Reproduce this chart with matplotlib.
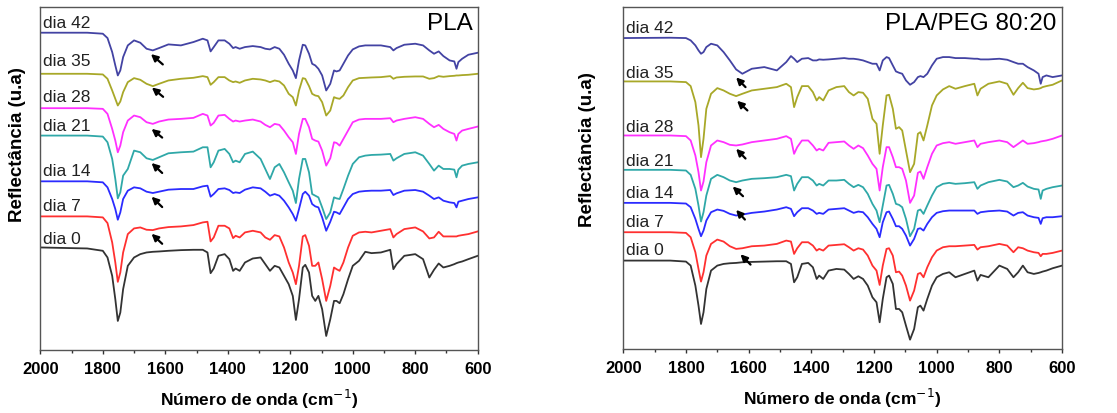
import matplotlib
matplotlib.use('Agg')
import matplotlib.pyplot as plt
from matplotlib.ticker import MultipleLocator

plt.rcParams['font.family'] = ['Liberation Sans', 'DejaVu Sans']

# 1. Wavenumber grid (cm-1), shared by every spectrum
wavenumber = [2000, 1850, 1800, 1785, 1770, 1760, 1752, 1744, 1735, 1720,
              1700, 1680, 1660, 1640, 1620, 1590, 1550, 1510, 1480, 1465,
              1455, 1445, 1430, 1410, 1395, 1383, 1375, 1362, 1345, 1320,
              1295, 1280, 1265, 1250, 1235, 1220, 1205, 1192, 1182, 1172,
              1160, 1152, 1140, 1130, 1120, 1110, 1098, 1085, 1072, 1060,
              1052, 1042, 1030, 1015, 1000, 980, 960, 940, 910, 880,
              870, 860, 835, 800, 775, 755, 740, 725, 710, 690,
              675, 668, 662, 650, 630, 600]

days = ['dia 0', 'dia 7', 'dia 14', 'dia 21', 'dia 28', 'dia 35', 'dia 42']
colors = ['#333333', '#ff3030', '#2b2bff', '#2fa8a8', '#ff30ff', '#a8a828', '#4343a3']

# 2. PLA spectra (reflectance, arbitrary units, already stacked)
pla_dia0 = [307, 304, 297, 277, 222, 152, 87, 112, 182, 252,
            277, 287, 292, 294, 295, 297, 299, 300, 300, 292,
            230, 244, 282, 287, 272, 237, 244, 237, 262, 274,
            277, 257, 237, 252, 247, 222, 197, 162, 90, 152,
            247, 255, 232, 162, 147, 162, 122, 42, 92, 147,
            147, 140, 167, 212, 252, 267, 294, 290, 292, 300,
            242, 257, 282, 287, 272, 217, 240, 259, 247, 252,
            257, 260, 262, 265, 272, 282]
pla_dia7 = [400, 400, 397, 380, 322, 262, 204, 232, 292, 347,
            364, 367, 360, 359, 364, 368, 370, 374, 382, 384,
            325, 337, 372, 372, 364, 335, 342, 337, 352, 357,
            352, 337, 330, 344, 340, 307, 262, 232, 197, 252,
            340, 344, 312, 252, 252, 262, 212, 147, 192, 247,
            242, 237, 262, 307, 342, 352, 354, 352, 357, 362,
            337, 347, 362, 367, 355, 334, 337, 354, 340, 340,
            340, 340, 342, 344, 347, 355]
pla_dia14 = [505, 505, 502, 487, 452, 422, 390, 412, 452, 477,
             487, 484, 474, 470, 474, 480, 482, 482, 490, 492,
             459, 467, 482, 484, 479, 470, 472, 470, 480, 487,
             484, 474, 462, 467, 462, 447, 427, 407, 387, 422,
             467, 474, 462, 437, 430, 427, 397, 357, 384, 414,
             412, 407, 427, 452, 467, 474, 476, 477, 477, 479,
             464, 469, 477, 479, 474, 462, 452, 457, 447, 442,
             440, 427, 444, 447, 452, 457]
pla_dia21 = [642, 642, 639, 622, 572, 512, 454, 472, 522, 542,
             597, 592, 574, 569, 577, 589, 592, 594, 607, 607,
             547, 562, 597, 602, 587, 562, 567, 562, 587, 594,
             572, 542, 512, 547, 557, 532, 502, 477, 440, 512,
             572, 572, 532, 467, 462, 457, 427, 392, 412, 457,
             454, 452, 482, 522, 557, 577, 582, 584, 585, 587,
             567, 574, 587, 592, 582, 557, 537, 552, 542, 542,
             540, 517, 540, 552, 557, 562]
pla_dia28 = [724, 724, 722, 707, 662, 627, 592, 612, 652, 687,
             702, 697, 682, 677, 684, 690, 692, 695, 707, 702,
             672, 680, 702, 704, 692, 684, 687, 684, 687, 690,
             684, 674, 667, 677, 674, 657, 637, 622, 587, 647,
             692, 692, 667, 632, 627, 624, 597, 552, 574, 622,
             620, 612, 632, 657, 682, 690, 692, 692, 692, 694,
             682, 687, 692, 697, 692, 677, 667, 674, 662, 652,
             647, 627, 647, 657, 662, 669]
pla_dia35 = [827, 827, 825, 812, 777, 752, 732, 744, 772, 802,
             814, 809, 797, 790, 797, 807, 812, 815, 820, 817,
             794, 802, 817, 817, 807, 802, 804, 800, 807, 812,
             810, 807, 802, 807, 804, 792, 767, 757, 732, 777,
             814, 812, 790, 767, 762, 760, 742, 702, 717, 757,
             754, 752, 762, 787, 807, 814, 815, 816, 817, 820,
             812, 816, 818, 819, 819, 812, 814, 820, 818, 820,
             821, 822, 822, 823, 824, 827]
pla_dia42 = [950, 950, 947, 934, 892, 852, 822, 837, 877, 912,
             927, 920, 902, 897, 904, 915, 912, 922, 932, 927,
             894, 907, 927, 927, 917, 904, 907, 902, 907, 910,
             907, 902, 900, 907, 902, 884, 857, 837, 814, 867,
             914, 912, 887, 857, 852, 842, 822, 777, 797, 837,
             834, 837, 857, 882, 900, 909, 912, 912, 912, 907,
             897, 904, 914, 917, 912, 897, 887, 894, 880, 867,
             864, 842, 862, 872, 884, 890]

# 3. PLA/PEG 80:20 spectra
peg_dia0 = [265, 265, 262, 250, 190, 130, 75, 110, 180, 235,
            250, 255, 257, 258, 260, 261, 262, 263, 263, 255,
            200, 215, 255, 258, 245, 210, 220, 210, 235, 240,
            238, 225, 210, 218, 210, 190, 155, 140, 80, 150,
            215, 220, 195, 120, 120, 110, 70, 28, 60, 125,
            130, 115, 150, 190, 215, 225, 230, 215, 225, 235,
            205, 222, 215, 250, 240, 215, 230, 250, 230, 225,
            228, 230, 232, 235, 242, 250]
peg_dia7 = [350, 350, 348, 335, 290, 240, 202, 230, 280, 315,
            328, 322, 308, 300, 302, 308, 310, 315, 325, 322,
            285, 302, 320, 320, 310, 295, 300, 295, 310, 312,
            314, 305, 295, 302, 298, 280, 250, 235, 192, 250,
            300, 302, 280, 230, 232, 220, 190, 145, 175, 225,
            228, 215, 245, 275, 295, 305, 308, 308, 310, 312,
            298, 305, 308, 315, 310, 290, 305, 302, 295, 290,
            288, 278, 285, 285, 288, 295]
peg_dia14 = [438, 438, 436, 425, 390, 360, 338, 355, 385, 410,
             418, 414, 405, 400, 403, 408, 412, 418, 425, 420,
             398, 410, 422, 422, 415, 405, 408, 405, 418, 420,
             422, 415, 408, 412, 410, 395, 375, 360, 335, 380,
             410, 412, 390, 368, 368, 360, 340, 310, 330, 360,
             362, 355, 375, 395, 408, 413, 415, 415, 415, 415,
             405, 410, 413, 415, 412, 400, 408, 410, 400, 395,
             393, 375, 392, 395, 395, 398]
peg_dia21 = [537, 537, 535, 522, 480, 430, 382, 410, 460, 510,
             522, 515, 505, 500, 505, 510, 512, 515, 522, 518,
             475, 495, 515, 515, 505, 490, 495, 490, 505, 505,
             507, 495, 485, 492, 485, 465, 435, 415, 380, 430,
             490, 492, 465, 435, 432, 425, 390, 338, 360, 415,
             418, 405, 430, 460, 485, 495, 498, 495, 497, 500,
             480, 490, 500, 507, 502, 485, 490, 498, 487, 480,
             478, 450, 475, 480, 485, 490]
peg_dia28 = [640, 640, 638, 625, 580, 530, 475, 502, 560, 610,
             625, 620, 612, 610, 613, 620, 625, 630, 638, 630,
             585, 605, 625, 625, 610, 595, 600, 595, 618, 620,
             622, 610, 600, 610, 602, 580, 555, 540, 475, 545,
             605, 605, 575, 545, 545, 540, 505, 438, 460, 528,
             532, 510, 545, 585, 610, 617, 620, 615, 620, 625,
             605, 615, 620, 625, 620, 605, 615, 625, 615, 617,
             620, 622, 623, 625, 630, 640]
peg_dia35 = [802, 802, 800, 788, 740, 670, 575, 630, 720, 765,
             782, 775, 765, 758, 765, 775, 780, 785, 795, 785,
             725, 755, 788, 788, 770, 745, 755, 745, 775, 785,
             788, 770, 760, 770, 768, 750, 690, 675, 585, 670,
             760, 762, 720, 660, 665, 655, 595, 530, 555, 645,
             650, 625, 670, 730, 760, 778, 788, 780, 788, 795,
             760, 780, 795, 802, 795, 762, 782, 798, 782, 778,
             780, 782, 785, 788, 792, 805]
peg_dia42 = [932, 933, 932, 925, 910, 895, 885, 890, 905, 915,
             910, 890, 865, 838, 825, 840, 845, 835, 860, 878,
             870, 860, 870, 872, 865, 865, 868, 867, 868, 870,
             872, 870, 870, 868, 865, 860, 855, 855, 835, 865,
             875, 872, 850, 832, 828, 825, 805, 792, 800, 815,
             818, 815, 825, 850, 870, 875, 875, 872, 872, 870,
             870, 868, 868, 870, 867, 860, 855, 855, 845, 835,
             825, 795, 815, 820, 815, 820]

# 4. Where the day labels and the little arrows sit (wavenumber, level)
pla_label_y = [334, 434, 537, 672, 759, 867, 982]
peg_label_y = [298, 382, 470, 565, 667, 830, 965]

pla_arrow_head = [(1644, 348), (1644, 459), (1644, 560), (1644, 662), (1643, 786), (1646, 886)]
pla_arrow_tail = [(1610, 318), (1610, 428), (1610, 530), (1610, 636), (1607, 758), (1608, 855)]
peg_arrow_head = [(1626, 284), (1640, 417), (1651, 487), (1640, 600), (1637, 744), (1640, 814)]
peg_arrow_tail = [(1594, 253), (1612, 388), (1618, 458), (1610, 571), (1604, 715), (1610, 785)]

panels = [
    ('PLA', [pla_dia0, pla_dia7, pla_dia14, pla_dia21, pla_dia28, pla_dia35, pla_dia42],
     pla_label_y, pla_arrow_head, pla_arrow_tail, 1027),
    ('PLA/PEG 80:20', [peg_dia0, peg_dia7, peg_dia14, peg_dia21, peg_dia28, peg_dia35, peg_dia42],
     peg_label_y, peg_arrow_head, peg_arrow_tail, 1025),
]

fig = plt.figure(figsize=(11.17, 4.14), dpi=100)
axes = [fig.add_axes([0.0361, 0.1522, 0.3916, 0.8285]),
        fig.add_axes([0.558, 0.1546, 0.3928, 0.826])]
ylabel_x = [18 / 1117, 588 / 1117]
ylabel_y = [0.65, 0.638]

for i, (ax, (title, spectra, label_y, heads, tails, ytop)) in enumerate(zip(axes, panels)):
    for spec, day, col, ly in zip(spectra, days, colors, label_y):
        ax.plot(wavenumber, spec, color=col, lw=1.3)
        ax.text(1990, ly, day, fontsize=12.5, color='#222222', va='center', ha='left')

    for head, tail in zip(heads, tails):
        ax.annotate('', xy=head, xytext=tail,
                    arrowprops=dict(arrowstyle='-|>', color='black', lw=1.6, mutation_scale=10,
                                    shrinkA=0, shrinkB=0))

    ax.text(0.988, 0.952, title, transform=ax.transAxes, ha='right', va='center', fontsize=17.5)

    ax.set_xlim(2000, 600)
    ax.set_ylim(0, ytop)
    ax.xaxis.set_major_locator(MultipleLocator(200))
    ax.xaxis.set_minor_locator(MultipleLocator(100))
    ax.tick_params(axis='x', which='major', direction='out', length=3, width=1, pad=5,
                   labelsize=12, colors='#333333', labelcolor='black')
    ax.tick_params(axis='x', which='minor', direction='out', length=2, width=1, colors='#333333')
    ax.set_yticks([])
    for lbl in ax.get_xticklabels():
        lbl.set_fontweight('bold')
    for sp in ax.spines.values():
        sp.set_color('#555555')
        sp.set_linewidth(1)

    ax.set_xlabel('Número de onda (cm$^{-1}$)', fontsize=12.5, fontweight='bold', labelpad=8)
    fig.text(ylabel_x[i], ylabel_y[i], 'Reflectância (u.a)', rotation=90, fontsize=13.5,
             fontweight='bold', ha='center', va='center')

fig.savefig('out.png', dpi=100)
